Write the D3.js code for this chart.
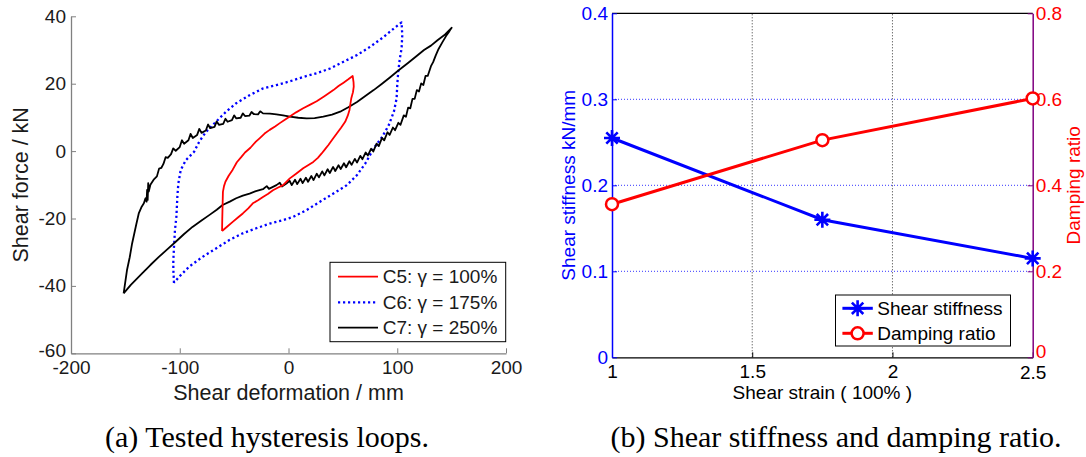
<!DOCTYPE html>
<html><head><meta charset="utf-8">
<script src="https://cdn.jsdelivr.net/npm/d3@7"></script>
<style>
html,body{margin:0;padding:0;background:#fff;}
svg{display:block;font-family:"Liberation Sans",Arial,sans-serif;}
</style></head>
<body>
<svg id="chart" width="1086" height="457"></svg>
<script>
// ---------- Data: (a) hysteresis loops [deformation mm, force kN] ----------
const loopC5 = [[-61.1,-23.7],[-60.9,-20],[-60.6,-16],[-60.3,-12.1],[-59.3,-10.4],[-58,-9.1],[-55,-7.3],[-51.3,-5.5],[-47.5,-3.3],[-43.5,-1.8],[-40,-0.4],[-35,1],[-30,2.8],[-26.6,3.8],[-22,5.2],[-17.3,6.3],[-12,7.4],[-8,8.3],[-3,9.4],[1.2,10.3],[7,11.5],[13.5,12.7],[20,13.8],[25.9,14.8],[33,16.3],[41.3,18.1],[46,19.3],[50.6,20.3],[55,21.3],[59,22.3],[59.8,20.5],[60,19.1],[59.3,17.5],[57.7,15.6],[56.8,13.8],[56.1,12.2],[54.5,10.5],[52.1,8.7],[48.5,7],[44.4,5.2],[40.5,3.5],[36.7,1.8],[33.5,0.5],[30.5,-0.7],[27,-2],[22.8,-3.2],[18,-4.2],[13.5,-5.1],[7,-6.7],[1.2,-8.1],[-5,-10.1],[-9.5,-10.8],[-14.3,-11.6],[-19,-12.7],[-23.5,-13.6],[-28,-14.6],[-32.8,-15.5],[-37,-17],[-42,-18.5],[-46.5,-19.7],[-51.3,-21],[-56,-22.3],[-61.1,-23.7]];

const loopC6 = [[-105.3,-39.1],[-105.9,-35],[-105.9,-32.3],[-105.3,-28.4],[-104.4,-23.4],[-103.1,-19.5],[-102.2,-13.6],[-101.3,-9.6],[-99.1,-5.6],[-94.4,-2.7],[-86.8,-0.2],[-82.1,2.8],[-75.9,5.7],[-66.7,8.7],[-57.4,11.7],[-48.1,14.2],[-35.8,16.6],[-23.5,18.6],[-11.1,19.6],[1.2,20.7],[13.5,22],[25.9,23.1],[38.2,24.5],[50.6,26.5],[63,28.5],[75.3,31],[87.6,33.9],[96.9,36.4],[104,38.2],[104.6,34.4],[104,30.5],[102.4,27.5],[100.9,23.5],[100,19.6],[99.4,15.6],[96.9,11.7],[92.2,7.7],[86.1,4.2],[78.3,0.8],[70.6,-3.7],[63,-7.1],[53.7,-10.1],[41.3,-12.6],[29,-15],[16.7,-17.5],[4.3,-19.5],[-5,-20.5],[-17.3,-21.5],[-29.6,-22.9],[-42,-24.4],[-54.4,-26.4],[-66.7,-28.9],[-79.1,-31.4],[-91.4,-34.3],[-100.6,-37.3],[-105.3,-39.1]];

const loopC7 = [[-151.6,-42.2],[-145,-39.7],[-134.6,-36.3],[-127,-33.8],[-119.2,-31.4],[-111,-29],[-103.7,-26.9],[-96,-24.6],[-88.3,-22.5],[-80,-20.6],[-72.9,-19],[-66,-17.4],[-60.6,-16],[-54,-15],[-48.1,-14],[-42,-13.2],[-35.8,-12.6],[-30,-11.9],[-23.5,-11.3],[-20,-10.4],[-18,-11.2],[-11.1,-10.1],[-8,-9.4],[-6,-10.5],[-1.9,-9.6],
[1,-8.8],[3,-10.1],[6,-8.5],[8,-9.8],[11,-8.2],[13,-9.5],[16,-7.9],[18,-9.1],[21,-7.4],[23,-8.6],[26,-6.7],[28,-7.8],[31,-6.0],[33,-7.2],[36,-5.4],[38,-6.5],[41,-4.7],[43,-5.9],[46,-4.2],[48,-5.3],[51,-3.6],[53,-4.8],[56,-3.0],[58,-4.1],[61,-2.3],[63,-3.4],[66,-1.4],[68,-2.4],[71,-0.4],[73,-1.3],[76,0.7],[78,-0.1],[81,2.2],[83,1.5],[86,3.9],[88,3.2],[91,5.6],[93,4.8],[96,7.0],[98,6.2],[101,8.4],[103,7.8],[106,10.6],[108,10.2],[110,12.9],[112,12.7],[114,15.5],[116,15.5],[118,18.1],[120,17.7],[122,20.1],[124,19.6],[126,22.3],[128,22.3],[131,25.2],[133,26.4],[135.5,28.5],[138,30.3],[141.7,32.4],[145,34.2],[148,35.6],[150,36.6],
[144,34.6],[137,32.9],[131,31.3],[124.6,30],[117,28],[109.3,26],[101,23.9],[93.8,22],[86,20],[78.3,18.1],[70,16.2],[63,14.6],[55,13],[47.5,11.7],[40,10.8],[32,10.2],[24,9.8],[16.7,9.7],[9,9.9],[1.2,10.2],[-5,10.6],[-11.1,10.9],[-17,11.1],[-23.5,11.2],
[-26,11.8],[-28,10.9],[-32,11],[-34,11.6],[-36,10.5],[-40,10.4],[-42,11.2],[-44,9.9],[-48,9.7],[-50,10.6],[-52,9.2],[-56,8.7],[-58,9.6],[-60,8.1],[-64,7.8],[-66,8.8],[-68,7.2],[-72,6.8],[-74,7.9],[-76,6.1],[-80,5.4],[-82,6.6],[-84,4.8],[-88,3.9],[-90,5.1],[-92,3.2],[-96,2.2],[-98,3.2],[-100,1.2],[-103.7,0.1],[-106,0.8],[-108,-0.9],[-111,-2.0],[-113,-1.8],[-115,-3.8],[-117,-5.0],[-119,-5.2],[-121,-7.5],[-124,-8.5],[-127,-10],[-128.5,-12],[-129,-9.5],[-129.5,-14.5],[-130,-11.5],[-130.5,-15],[-131.5,-14],[-133,-15.5],[-135,-16.5],[-137.7,-18.5],[-140,-21.8],[-143.8,-27.4],[-146,-31.5],[-148.5,-35.3],[-151.6,-42.2]];

const loopNames = ["C5: \u03b3 = 100%", "C6: \u03b3 = 175%", "C7: \u03b3 = 250%"];
const xTicksA = [-200,-100,0,100,200];
const yTicksA = [-60,-40,-20,0,20,40];

// ---------- Data: (b) stiffness and damping ----------
const shearStrain = [1, 1.75, 2.5];
const shearStiffness = [0.255, 0.160, 0.115];
const dampingRatio = [0.356, 0.505, 0.602];
const xTicksB = [1, 1.5, 2, 2.5];
const yTicksB1 = [0, 0.1, 0.2, 0.3, 0.4];
const yTicksB2 = [0, 0.2, 0.4, 0.6, 0.8];
const legendB = ["Shear stiffness", "Damping ratio"];

const captions = ["(a) Tested hysteresis loops.", "(b) Shear stiffness and damping ratio."];

const svg = d3.select("#chart");
const plain = d => String(d); // hyphen-minus as in the reference

// ================= Panel (a) =================
const xA = d3.scaleLinear().domain([-200,200]).range([71,506]);
const yA = d3.scaleLinear().domain([-60,40]).range([353.3,16.3]);
const axisGray = "#808080", textDark = "#1a1a1a";

const gA = svg.append("g");
const xAxA = gA.append("g").attr("transform",`translate(0,${yA(-60)})`)
  .call(d3.axisBottom(xA).tickValues(xTicksA).tickSizeInner(-5).tickSizeOuter(0).tickPadding(7).tickFormat(plain));
const yAxA = gA.append("g").attr("transform",`translate(${xA(-200)},0)`)
  .call(d3.axisLeft(yA).tickValues(yTicksA).tickSizeInner(-5).tickSizeOuter(0).tickPadding(5).tickFormat(plain));
[xAxA,yAxA].forEach(ax=>{
  ax.select(".domain").attr("stroke",axisGray).attr("stroke-width",1.3);
  ax.selectAll(".tick line").attr("stroke",axisGray);
  ax.selectAll(".tick text").attr("fill",textDark).style("font-size","19px").style("font-family","Liberation Sans, Arial, sans-serif");
});
xAxA.selectAll(".tick text").attr("dy","0.71em");
yAxA.selectAll(".tick text").filter(d=>d===-60).attr("dy","0.15em");

const lineA = d3.line().x(d=>xA(d[0])).y(d=>yA(d[1]));
const loopStyles = [
  {data: loopC5, color:"#ff0000", dash:null, w:1.8},
  {data: loopC6, color:"#0000ff", dash:"2.2,2.8", w:2.3},
  {data: loopC7, color:"#000000", dash:null, w:1.8}
];
[loopStyles[1], loopStyles[2], loopStyles[0]].forEach(s=>{
  gA.append("path").datum(s.data).attr("d",lineA).attr("fill","none")
    .attr("stroke",s.color).attr("stroke-width",s.w)
    .attr("stroke-dasharray",s.dash).attr("stroke-linejoin","round");
});

gA.append("text").attr("x",(xA(-200)+xA(200))/2).attr("y",399.5).attr("text-anchor","middle")
  .style("font-size","21.5px").attr("fill",textDark).text("Shear deformation / mm");
gA.append("text").attr("transform",`translate(28,${(yA(-60)+yA(40))/2}) rotate(-90)`).attr("text-anchor","middle")
  .style("font-size","21.5px").attr("fill",textDark).text("Shear force / kN");

// legend (a)
const legA = gA.append("g");
legA.append("rect").attr("x",330).attr("y",262.3).attr("width",175.7).attr("height",79.4)
  .attr("fill","#fff").attr("stroke","#000").attr("stroke-width",1);
const rowsA = [276.7, 302.3, 327.7];
loopStyles.forEach((s,i)=>{
  legA.append("line").attr("x1",338).attr("x2",378).attr("y1",rowsA[i]).attr("y2",rowsA[i])
    .attr("stroke",s.color).attr("stroke-width",s.w).attr("stroke-dasharray",s.dash);
  legA.append("text").attr("x",382.7).attr("y",rowsA[i]).attr("dy","0.35em")
    .style("font-size","19px").attr("fill",textDark).text(loopNames[i]);
});

// ================= Panel (b) =================
const xB = d3.scaleLinear().domain([1,2.5]).range([612,1032.7]);
const yB1 = d3.scaleLinear().domain([0,0.4]).range([357.3,13.3]);
const yB2 = d3.scaleLinear().domain([0,0.8]).range([357.3,13.3]);
const gB = svg.append("g");
const purple = "#800080";

// grid
gB.selectAll(".vg").data(xTicksB.slice(1,-1)).enter().append("line")
  .attr("x1",d=>xB(d)).attr("x2",d=>xB(d)).attr("y1",yB1(0)).attr("y2",yB1(0.4))
  .attr("stroke","#000").attr("stroke-width",0.8).attr("stroke-dasharray","1,2");
gB.selectAll(".hg").data(yTicksB1.slice(1,-1)).enter().append("line")
  .attr("x1",xB(1)).attr("x2",xB(2.5)).attr("y1",d=>yB1(d)).attr("y2",d=>yB1(d))
  .attr("stroke","#0000ff").attr("stroke-width",0.8).attr("stroke-dasharray","1,2");

// top border
gB.append("line").attr("x1",xB(1)).attr("x2",xB(2.5)).attr("y1",yB1(0.4)).attr("y2",yB1(0.4)).attr("stroke","#000").attr("stroke-width",1.2);

const xAxB = gB.append("g").attr("transform",`translate(0,${yB1(0)})`)
  .call(d3.axisBottom(xB).tickValues(xTicksB).tickSizeInner(-5).tickSizeOuter(0).tickPadding(7).tickFormat(plain));
xAxB.select(".domain").attr("stroke","#000").attr("stroke-width",1.2);
xAxB.selectAll(".tick line").attr("stroke","#000");
xAxB.selectAll(".tick text").attr("fill","#000").attr("dy","0.71em").style("font-size","19px");
xAxB.selectAll(".tick text").filter(d=>d===2.5).attr("dy","0.8em");

const yAxB1 = gB.append("g").attr("transform",`translate(${xB(1)},0)`)
  .call(d3.axisLeft(yB1).tickValues(yTicksB1).tickSizeInner(-5).tickSizeOuter(0).tickPadding(4).tickFormat(plain));
yAxB1.select(".domain").attr("stroke","#0000ff").attr("stroke-width",1.5);
yAxB1.selectAll(".tick line").attr("stroke","#0000ff");
yAxB1.selectAll(".tick text").attr("fill","#0000ff").style("font-size","19px");

const yAxB2 = gB.append("g").attr("transform",`translate(${xB(2.5)},0)`)
  .call(d3.axisRight(yB2).tickValues(yTicksB2).tickSizeInner(-5).tickSizeOuter(0).tickPadding(3).tickFormat(plain));
yAxB2.select(".domain").attr("stroke",purple).attr("stroke-width",1.5);
yAxB2.selectAll(".tick line").attr("stroke",purple);
yAxB2.selectAll(".tick text").attr("fill","#ff0000").style("font-size","19px");
yAxB2.selectAll(".tick text").filter(d=>d===0).attr("dy","0.02em");

// series
const stiffPts = shearStrain.map((x,i)=>[x,shearStiffness[i]]);
const dampPts = shearStrain.map((x,i)=>[x,dampingRatio[i]]);
gB.append("path").datum(stiffPts).attr("d",d3.line().x(d=>xB(d[0])).y(d=>yB1(d[1])))
  .attr("fill","none").attr("stroke","#0000ff").attr("stroke-width",3);
gB.append("path").datum(dampPts).attr("d",d3.line().x(d=>xB(d[0])).y(d=>yB2(d[1])))
  .attr("fill","none").attr("stroke","#ff0000").attr("stroke-width",3);
const star = "M-8,0H8M0,-8V8M-5.7,-5.7L5.7,5.7M-5.7,5.7L5.7,-5.7";
gB.selectAll(".star").data(stiffPts).enter().append("path")
  .attr("transform",d=>`translate(${xB(d[0])},${yB1(d[1])})`).attr("d",star)
  .attr("stroke","#0000ff").attr("stroke-width",2.6).attr("fill","none");
gB.selectAll(".circ").data(dampPts).enter().append("circle")
  .attr("cx",d=>xB(d[0])).attr("cy",d=>yB2(d[1])).attr("r",6)
  .attr("stroke","#ff0000").attr("stroke-width",2.5).attr("fill","#fff");

// labels
gB.append("text").attr("x",(xB(1)+xB(2.5))/2).attr("y",399).attr("text-anchor","middle")
  .style("font-size","19px").attr("fill","#000").text("Shear strain ( 100% )");
gB.append("text").attr("transform",`translate(575,${(yB1(0)+yB1(0.4))/2}) rotate(-90)`).attr("text-anchor","middle")
  .style("font-size","19px").attr("fill","#0000ff").text("Shear stiffness kN/mm");
gB.append("text").attr("transform",`translate(1079.5,${(yB1(0)+yB1(0.4))/2}) rotate(-90)`).attr("text-anchor","middle")
  .style("font-size","19px").attr("fill","#ff0000").text("Damping ratio");

// legend (b)
const legB = gB.append("g");
legB.append("rect").attr("x",835.5).attr("y",295).attr("width",175).attr("height",51)
  .attr("fill","#fff").attr("stroke","#000").attr("stroke-width",1);
const rowsB = [308.3, 333.3];
[0,1].forEach(i=>{
  const col = i===0 ? "#0000ff" : "#ff0000";
  legB.append("line").attr("x1",842.4).attr("x2",872.8).attr("y1",rowsB[i]).attr("y2",rowsB[i])
    .attr("stroke",col).attr("stroke-width",3);
  if(i===0){
    legB.append("path").attr("transform",`translate(857.6,${rowsB[i]})`).attr("d",star)
      .attr("stroke",col).attr("stroke-width",2.6).attr("fill","none");
  } else {
    legB.append("circle").attr("cx",857.6).attr("cy",rowsB[i]).attr("r",6)
      .attr("stroke",col).attr("stroke-width",2.5).attr("fill","#fff");
  }
  legB.append("text").attr("x",877.3).attr("y",rowsB[i]).attr("dy","0.35em")
    .style("font-size","19px").attr("fill","#000").text(legendB[i]);
});

// captions
svg.append("text").attr("x",267).attr("y",447).attr("text-anchor","middle")
  .style("font-family","Liberation Serif, Times New Roman, serif").style("font-size","30px").attr("fill","#000").text(captions[0]);
svg.append("text").attr("x",836).attr("y",447).attr("text-anchor","middle")
  .style("font-family","Liberation Serif, Times New Roman, serif").style("font-size","30px").attr("fill","#000").text(captions[1]);
</script>
</body></html>
